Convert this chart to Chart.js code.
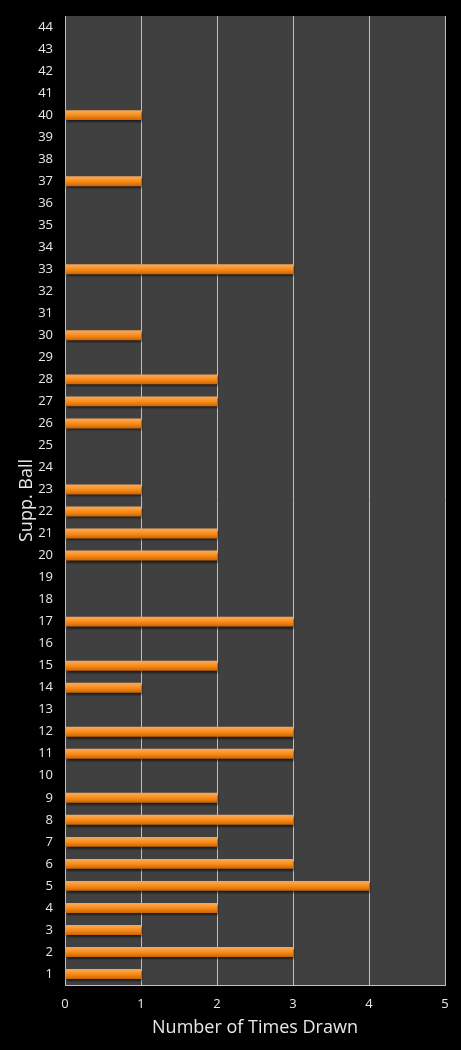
<!DOCTYPE html>
<html>
<head>
<meta charset="utf-8">
<script src="https://cdn.jsdelivr.net/npm/chart.js@4/dist/chart.umd.min.js"></script>
<style>
html,body{margin:0;padding:0;background:#000;}
#wrap{width:461px;height:1050px;position:relative;}
</style>
</head>
<body>
<div id="wrap"><canvas id="c" width="461" height="1050"></canvas></div>
<script>
const balls = ['1','2','3','4','5','6','7','8','9','10','11','12','13','14','15','16','17','18','19','20','21','22','23','24','25','26','27','28','29','30','31','32','33','34','35','36','37','38','39','40','41','42','43','44'];
const timesDrawn = [1,3,1,2,4,3,2,3,2,0,3,3,0,1,2,0,3,0,0,2,2,1,1,0,0,1,2,2,0,1,0,0,3,0,0,0,1,0,0,1,0,0,0,0];
const xTicks = [0,1,2,3,4,5];
const xTitle = 'Number of Times Drawn';
const yTitle = 'Supp. Ball';
const BAR_PCT = 0.45;

function barGradient(context) {
  const chart = context.chart;
  const ys = chart.scales.y;
  const area = chart.chartArea;
  if (!ys || !area || context.dataIndex === undefined) return '#f08a20';
  const y = ys.getPixelForValue(context.dataIndex);
  const h = (area.bottom - area.top) / balls.length * BAR_PCT;
  const g = chart.ctx.createLinearGradient(0, y - h / 2, 0, y + h / 2);
  g.addColorStop(0, '#f2a860');
  g.addColorStop(0.25, '#fc9e3c');
  g.addColorStop(0.6, '#f5850f');
  g.addColorStop(1, '#c7650a');
  return g;
}

const bgPlugin = {
  id: 'bg',
  beforeDraw(chart) {
    const {ctx, chartArea: a} = chart;
    ctx.save();
    ctx.fillStyle = '#000';
    ctx.fillRect(0, 0, chart.width, chart.height);
    ctx.fillStyle = '#404040';
    ctx.fillRect(a.left, a.top, a.right - a.left, a.bottom - a.top);
    ctx.restore();
  },
  beforeDatasetsDraw(chart) {
    const ctx = chart.ctx;
    ctx.save();
    ctx.shadowColor = 'rgba(0,0,0,0.55)';
    ctx.shadowOffsetY = 2;
    ctx.shadowOffsetX = 1;
    ctx.shadowBlur = 2;
  },
  afterDatasetsDraw(chart) {
    chart.ctx.restore();
  }
};

new Chart(document.getElementById('c'), {
  type: 'bar',
  data: {
    labels: balls,
    datasets: [{
      data: timesDrawn,
      backgroundColor: barGradient,
      borderWidth: 0,
      barPercentage: BAR_PCT,
      categoryPercentage: 1.0
    }]
  },
  options: {
    indexAxis: 'y',
    responsive: false,
    animation: false,
    devicePixelRatio: 1,
    layout: {padding: {top: 16, right: 16, left: 16, bottom: 11}},
    plugins: {legend: {display: false}, tooltip: {enabled: false}},
    scales: {
      x: {
        type: 'linear',
        min: 0, max: 5,
        afterBuildTicks(s) { s.ticks = xTicks.map(v => ({value: v})); },
        afterFit(s) { s.height = 54; },
        grid: {color: '#bfbfbf', lineWidth: 1, drawTicks: false},
        border: {color: '#bfbfbf', width: 1},
        ticks: {color: '#e8e8e8', font: {family: 'Open Sans', size: 13}, padding: 11},
        title: {display: true, text: xTitle, color: '#e8e8e8', font: {family: 'Open Sans', size: 18}, padding: {top: 0, bottom: 0}}
      },
      y: {
        reverse: true,
        afterFit(s) { s.width = 49; s.paddingTop = 0; s.paddingBottom = 0; },
        grid: {display: false, drawTicks: false},
        border: {color: '#bfbfbf', width: 1},
        ticks: {color: '#e8e8e8', font: {family: 'Open Sans', size: 13}, padding: 12, autoSkip: false},
        title: {display: true, text: yTitle, color: '#e8e8e8', font: {family: 'Open Sans', size: 18}, padding: {top: 0, bottom: 0}}
      }
    }
  },
  plugins: [bgPlugin]
});
</script>
</body>
</html>
